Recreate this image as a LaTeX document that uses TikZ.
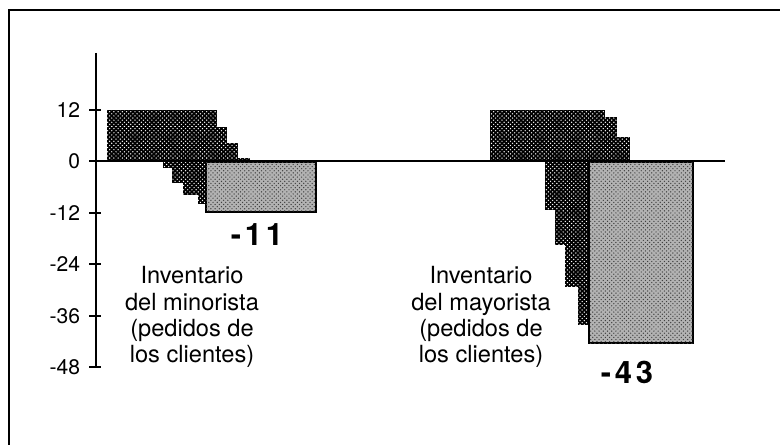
\documentclass[tikz,border=0pt]{standalone}
\usepackage{fontspec}
\setmainfont{TeX Gyre Heros}
\usetikzlibrary{patterns}
\tikzset{
  darkbar/.style={fill=black, postaction={pattern=crosshatch dots, pattern color=white}},
  lightbar/.style={draw=black, line width=1.5pt, fill=black!30, postaction={pattern=crosshatch dots, pattern color=black!75}},
  ticklabel/.style={anchor=east, inner sep=0pt, font=\fontsize{15}{17}\selectfont},
  caption/.style={align=center, inner sep=0pt, font=\fontsize{16.8}{18.6}\selectfont},
  total/.style={inner sep=0pt, font=\fontsize{22}{24}\selectfont\bfseries\addfontfeature{LetterSpace=12}}
}
\def\darkrect(#1)(#2){\fill[darkbar] (#1) rectangle (#2);}

\begin{document}
\begin{tikzpicture}[x=0.025cm, y=-0.025cm, line width=1.4pt]
			%%%%% START %%%%%
			\useasboundingbox (0,0) rectangle (780,445);
			\draw (9,445) -- (9,10) -- (780,10);
			
			% minorista
			\darkrect(107,110)(217,161)
			\darkrect(107,127)(227,161)
			\darkrect(107,143)(238,161)
			\darkrect(107,158)(250,161)
			\darkrect(163,161)(206,168)
			\darkrect(172,161)(206,183)
			\darkrect(183,161)(206,195)
			\darkrect(198,161)(206,204)
			\draw[lightbar] (206,162) rectangle (316,212);
			
			% mayorista
			\darkrect(490,110)(605,161)
			\darkrect(490,117)(617,161)
			\darkrect(490,137)(630,161)
			\darkrect(545,161)(589,210)
			\darkrect(555,161)(589,245)
			\darkrect(565,161)(589,287)
			\darkrect(578,161)(589,325)
			\draw[lightbar] (589,162) rectangle (693,343);
			
			% ejes
			\draw (96,53) -- (96,367);
			\draw (96,161) -- (725,161);
			\foreach \y/\lab [count=\i] in {110/12, 161/0, 213/-12, 264/-24, 316/-36, 367/-48}{
				\draw (89,\y) -- (101,\y);
				\node[ticklabel] (tick\i) at (81,\y) {\lab};
			}
			
			\node[total] (totmin) at (257,235) {-11};
			\node[total] (totmay) at (627,372) {-43};
			
			\node[caption] (capmin) at (192,317) {Inventario\\del minorista\\(pedidos de\\los clientes)};
			\node[caption] (capmay) at (481,317) {Inventario\\del mayorista\\(pedidos de\\los clientes)};
			%%%%% END %%%%%
		\end{tikzpicture}
\end{document}
